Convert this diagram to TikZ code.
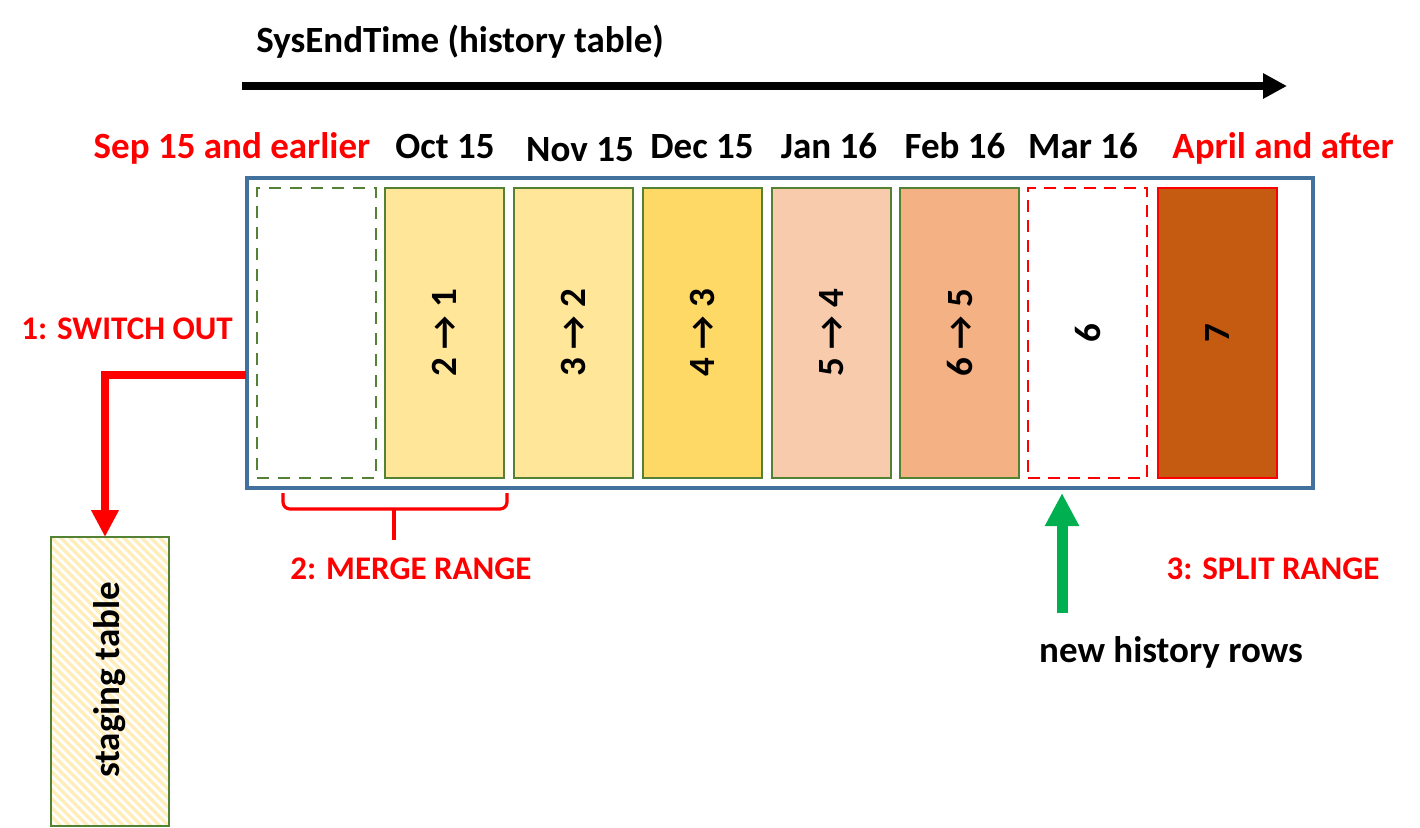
\documentclass[tikz,border=0pt]{standalone}
\usepackage{fontspec}
\setmainfont{Carlito}
\usetikzlibrary{arrows.meta}
\definecolor{boxblue}{HTML}{41719C}
\definecolor{colgreen}{HTML}{548235}
\definecolor{yA}{HTML}{FFE699}
\definecolor{yB}{HTML}{FFD966}
\definecolor{oA}{HTML}{F8CBAD}
\definecolor{oB}{HTML}{F4B183}
\definecolor{oC}{HTML}{C55A11}
\definecolor{newgreen}{HTML}{00B050}
\definecolor{hatchcol}{HTML}{FFEDBA}
\definecolor{actred}{HTML}{FF0000}
\begin{document}
\begin{tikzpicture}[x=1pt,y=-1pt,
  col/.style={draw=colgreen, line width=2, minimum width=119, minimum height=290, inner sep=0},
  lbl/.style={font=\fontsize{37}{44}\selectfont\bfseries, inner sep=0, anchor=base},
  act/.style={text=actred, font=\fontsize{33}{40}\selectfont\bfseries, inner sep=0, anchor=base},
  rot/.style={rotate=90, font=\fontsize{37}{44}\selectfont\bfseries, inner sep=0}]
\useasboundingbox (0,0) rectangle (1420,827);

% title and time arrow
\node[lbl] (title) at (460,52) {SysEndTime (history table)};
\coordinate (ta) at (242,86);
\coordinate (tb) at (1287,86);
\draw[line width=8, -{Triangle[length=24,width=24]}] (ta) -- (tb);

% column labels
\node[lbl, text=actred] (l0) at (232,158) {Sep 15 and earlier};
\node[lbl] (l1) at (445,158) {Oct 15};
\node[lbl] (l2) at (580,161) {Nov 15};
\node[lbl] (l3) at (702,158) {Dec 15};
\node[lbl] (l4) at (829,158) {Jan 16};
\node[lbl] (l5) at (955,158) {Feb 16};
\node[lbl] (l6) at (1083,158) {Mar 16};
\node[lbl, text=actred] (l7) at (1283,158) {April and after};

% outer box
\node[draw=boxblue, line width=3.5, minimum width=1066, minimum height=310, inner sep=0] (outer) at (780,333) {};

% columns
\node[col, dashed, dash pattern=on 12pt off 9pt] (c0) at (316,333) {};
\node[col, fill=yA] (c1) at (444.5,333) {};
\node[col, fill=yA] (c2) at (573.5,333) {};
\node[col, fill=yB] (c3) at (702.5,333) {};
\node[col, fill=oA] (c4) at (831.5,333) {};
\node[col, fill=oB] (c5) at (959.5,333) {};
\node[col, draw=actred, line width=2.2, dash pattern=on 12pt off 8pt] (c6) at (1087.5,333) {};
\node[col, draw=actred, fill=oC] (c7) at (1217.5,333) {};

\node[rot] at (c1) {2 → 1};
\node[rot] at (c2) {3 → 2};
\node[rot] at (c3) {4 → 3};
\node[rot] at (c4) {5 → 4};
\node[rot] at (c5) {6 → 5};
\node[rot] at (c6) {6};
\node[rot] at (c7) {7};

% staging table
\coordinate (sa) at (51,537);
\coordinate (sb) at (169,826);
\begin{scope}
  \clip (sa) rectangle (sb);
  \fill[white] (sa) rectangle (sb);
  \foreach \i in {-40,...,20} \draw[hatchcol, line width=3.5] (51+\i*9,537) -- ++(320,320);
\end{scope}
\node[draw=colgreen, line width=2.5, minimum width=118, minimum height=289, inner sep=0] (stg) at (110,681.5) {};
\node[rot] (stgt) at (110,680) {staging table};

% 1: switch out
\node[act] (a1) at (127,339) {1: SWITCH OUT};
\coordinate (so) at (246,375);
\coordinate (st) at (105,537);
\draw[actred, line width=8, -{Triangle[length=27,width=26]}] (so) -| (st);

% 2: merge range
\coordinate (b1) at (283,493);
\coordinate (b2) at (283,509);
\coordinate (b3) at (507,509);
\coordinate (b4) at (507,493);
\coordinate (bm) at (394,509);
\coordinate (bt) at (394,540);
\draw[actred, line width=3.2, rounded corners=7] (b1) -- (b2) -- (b3) -- (b4);
\draw[actred, line width=3.2] (bm) -- (bt);
\node[act] (a2) at (411,579) {2: MERGE RANGE};

% 3: split range
\node[act] (a3) at (1273,579) {3: SPLIT RANGE};

% new history rows
\coordinate (gs) at (1062,613);
\coordinate (ge) at (1062,493);
\draw[newgreen, line width=11, -{Triangle[length=33,width=32]}] (gs) -- (ge);
\node[lbl] (nh) at (1171,662) {new history rows};
\end{tikzpicture}
\end{document}
